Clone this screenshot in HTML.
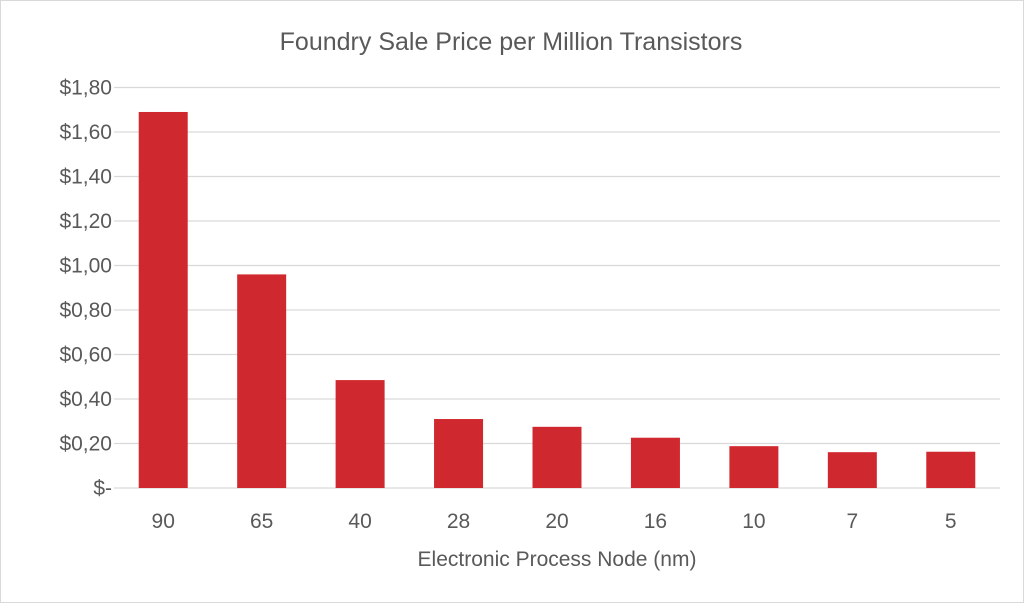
<!DOCTYPE html>
<html><head><meta charset="utf-8"><style>
html,body{margin:0;padding:0;background:#fff}
#c{width:1024px;height:603px;position:relative;box-sizing:border-box;border:1px solid #d9d9d9}
text{font-family:"Liberation Sans",sans-serif;fill:#595959}
</style></head><body>
<div id="c">
<svg id="s" width="1022" height="601" viewBox="1 1 1022 601" xmlns="http://www.w3.org/2000/svg">
<text x="511" y="50" text-anchor="middle" font-size="25">Foundry Sale Price per Million Transistors</text>
<text x="557" y="566" text-anchor="middle" font-size="21">Electronic Process Node (nm)</text>
<g id="grid"></g><g id="bars"></g><g id="yl"></g><g id="xl"></g>
</svg>
</div>
<script>
const categories=["90","65","40","28","20","16","10","7","5"];
const values=[1.69,0.96,0.485,0.31,0.275,0.226,0.188,0.161,0.163];
const yTicks=[0,0.2,0.4,0.6,0.8,1.0,1.2,1.4,1.6,1.8];
const yTickLabels=["$-","$0,20","$0,40","$0,60","$0,80","$1,00","$1,20","$1,40","$1,60","$1,80"];
const NS="http://www.w3.org/2000/svg";
const x0=114,x1=1000,y0=488,yTop=87.5,yMax=1.8;
const y=v=>y0-(v/yMax)*(y0-yTop);
const bw=(x1-x0)/categories.length;
const xc=i=>x0+bw*(i+0.5);
function mk(t,a){const e=document.createElementNS(NS,t);for(const k in a)e.setAttribute(k,a[k]);return e;}
const grid=document.getElementById('grid'),bars=document.getElementById('bars'),yl=document.getElementById('yl'),xl=document.getElementById('xl');
yTicks.forEach((v,i)=>{
 const l=mk('line',{x1:x0,x2:x1,y1:y(v),y2:y(v),stroke:'#d9d9d9','stroke-width':1.3});
 
 
 grid.appendChild(l);
 const t=mk('text',{x:112,y:y(v)+7,'text-anchor':'end','font-size':21});
 t.textContent=yTickLabels[i];
 
 
 yl.appendChild(t);
});
categories.forEach((c,i)=>{
 const w=49;
 const r=mk('rect',{x:xc(i)-w/2,y:y(values[i]),width:w,height:y0-y(values[i]),fill:'#d0282f'});
 
 
 bars.appendChild(r);
 const t=mk('text',{x:xc(i),y:528,'text-anchor':'middle','font-size':21});
 t.textContent=c;
 
 
 xl.appendChild(t);
});
</script>
</body></html>
